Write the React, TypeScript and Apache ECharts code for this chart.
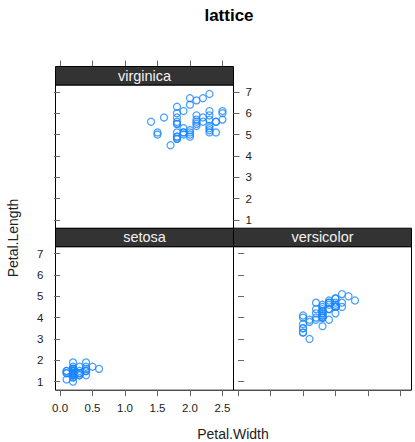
import React, { useEffect, useRef } from "react";
import * as echarts from "echarts";

const panelNames = ["virginica", "setosa", "versicolor"];

const virginicaWidth = [2.5,1.9,2.1,1.8,2.2,2.1,1.7,1.8,1.8,2.5,2.0,1.9,2.1,2.0,2.4,2.3,1.8,2.2,2.3,1.5,2.3,2.0,2.0,1.8,2.1,1.8,1.8,1.8,2.1,1.6,1.9,2.0,2.2,1.5,1.4,2.3,2.4,1.8,1.8,2.1,2.4,2.3,1.9,2.3,2.5,2.3,1.9,2.0,2.3,1.8];
const virginicaLength = [6.0,5.1,5.9,5.6,5.8,6.6,4.5,6.3,5.8,6.1,5.1,5.3,5.5,5.0,5.1,5.3,5.5,6.7,6.9,5.0,5.7,4.9,6.7,4.9,5.7,6.0,4.8,4.9,5.6,5.8,6.1,6.4,5.6,5.1,5.6,6.1,5.6,5.5,4.8,5.4,5.6,5.1,5.1,5.9,5.7,5.2,5.0,5.2,5.4,5.1];

const setosaWidth = [0.2,0.2,0.2,0.2,0.2,0.4,0.3,0.2,0.2,0.1,0.2,0.2,0.1,0.1,0.2,0.4,0.4,0.3,0.3,0.3,0.2,0.4,0.2,0.5,0.2,0.2,0.4,0.2,0.2,0.2,0.2,0.4,0.1,0.2,0.2,0.2,0.2,0.1,0.2,0.2,0.3,0.3,0.2,0.6,0.4,0.3,0.2,0.2,0.2,0.2];
const setosaLength = [1.4,1.4,1.3,1.5,1.4,1.7,1.4,1.5,1.4,1.5,1.5,1.6,1.4,1.1,1.2,1.5,1.3,1.4,1.7,1.5,1.7,1.5,1.0,1.7,1.9,1.6,1.6,1.5,1.4,1.6,1.6,1.5,1.5,1.4,1.5,1.2,1.3,1.4,1.3,1.5,1.3,1.3,1.3,1.6,1.9,1.4,1.6,1.4,1.5,1.4];

const versicolorWidth = [1.4,1.5,1.5,1.3,1.5,1.3,1.6,1.0,1.3,1.4,1.0,1.5,1.0,1.4,1.3,1.4,1.5,1.0,1.5,1.1,1.8,1.3,1.5,1.2,1.3,1.4,1.4,1.7,1.5,1.0,1.1,1.0,1.2,1.6,1.5,1.6,1.5,1.3,1.3,1.3,1.2,1.4,1.2,1.0,1.3,1.2,1.3,1.3,1.1,1.3];
const versicolorLength = [4.7,4.5,4.9,4.0,4.6,4.5,4.7,3.3,4.6,3.9,3.5,4.2,4.0,4.7,3.6,4.4,4.5,4.1,4.5,3.9,4.8,4.0,4.9,4.7,4.3,4.4,4.8,5.0,4.5,3.5,3.8,3.7,3.9,5.1,4.5,4.5,4.7,4.4,4.1,4.0,4.4,4.6,4.0,3.3,4.2,4.2,4.2,4.3,3.0,4.1];

const xTicks = [0.0, 0.5, 1.0, 1.5, 2.0, 2.5];
const yTicks = [1, 2, 3, 4, 5, 6, 7];
const xRange = [-0.07, 2.67];
const yRange = [0.6, 7.32];

const FONT = "'Liberation Sans', Arial, Helvetica, sans-serif";

export default function App() {
  const ref = useRef<HTMLDivElement>(null);
  useEffect(() => {
    document.body.style.margin = "0";
    const chart = echarts.init(ref.current!, null, { renderer: "svg" });

    const L = 55.5, W = 178, H = 143.5, S = 18.5;
    const topRowY = 85, botRowY = 246.7;
    const grids = [
      { left: L, top: topRowY, width: W, height: H },
      { left: L, top: botRowY, width: W, height: H },
      { left: L + W, top: botRowY, width: W, height: H },
    ];

    const tickStyle = { show: true, length: 6, lineStyle: { color: "#666", width: 1 } };
    const labelStyle = { color: "#222", fontSize: 11.5, fontFamily: FONT };

    const mkX = (gi: number, pos: string, labels: boolean, offset = 0) => ({
      type: "value",
      gridIndex: gi,
      position: pos,
      offset,
      min: xRange[0],
      max: xRange[1],
      axisLine: { show: false },
      splitLine: { show: false },
      axisTick: { ...tickStyle, customValues: xTicks },
      axisLabel: {
        show: labels,
        ...labelStyle,
        margin: 12,
        customValues: xTicks,
        formatter: (v: number) => v.toFixed(1),
      },
    });
    const mkY = (gi: number, pos: string, labels: boolean) => ({
      type: "value",
      gridIndex: gi,
      position: pos,
      min: yRange[0],
      max: yRange[1],
      axisLine: { show: false },
      splitLine: { show: false },
      axisTick: { ...tickStyle, customValues: yTicks },
      axisLabel: {
        show: labels,
        ...labelStyle,
        margin: 12,
        customValues: yTicks,
        formatter: (v: number) => String(Math.round(v)),
      },
    });

    const xAxis = [
      mkX(0, "top", false, S),
      mkX(1, "bottom", true),
      mkX(2, "bottom", false),
    ];
    const yAxis = [
      mkY(0, "left", false),
      mkY(0, "right", true),
      mkY(1, "left", true),
      mkY(2, "right", false),
    ];

    const pairs = (xs: number[], ys: number[]) => xs.map((x, i) => [x, ys[i]]);
    const seriesBase = {
      type: "scatter",
      symbol: "circle",
      symbolSize: 7,
      itemStyle: { color: "rgba(0,0,0,0)", borderColor: "#1a86ff", borderWidth: 1.25 },
      silent: true,
    };
    const series = [
      { ...seriesBase, name: "virginica", xAxisIndex: 0, yAxisIndex: 0, data: pairs(virginicaWidth, virginicaLength) },
      { ...seriesBase, name: "setosa", xAxisIndex: 1, yAxisIndex: 2, data: pairs(setosaWidth, setosaLength) },
      { ...seriesBase, name: "versicolor", xAxisIndex: 2, yAxisIndex: 3, data: pairs(versicolorWidth, versicolorLength) },
    ];

    const graphic: any[] = [];
    grids.forEach((g, i) => {
      graphic.push({
        type: "rect",
        shape: { x: g.left, y: g.top - S, width: g.width, height: S },
        style: { fill: "#333333", stroke: "#000", lineWidth: 1 },
        z: 10,
      });
      graphic.push({
        type: "text",
        x: g.left + g.width / 2,
        y: g.top - S / 2,
        style: {
          text: panelNames[i],
          fill: "#f2f2f2",
          font: `14.5px ${FONT}`,
          textAlign: "center",
          textVerticalAlign: "middle",
        },
        z: 11,
      });
    });
    graphic.push({
      type: "text",
      x: 229,
      y: 15,
      style: { text: "lattice", fill: "#000", font: `bold 17px ${FONT}`, textAlign: "center", textVerticalAlign: "middle" },
    });
    graphic.push({
      type: "text",
      x: 233,
      y: 434,
      style: { text: "Petal.Width", fill: "#222", font: `14px ${FONT}`, textAlign: "center", textVerticalAlign: "middle" },
    });
    graphic.push({
      type: "text",
      x: 13,
      y: 238,
      rotation: Math.PI / 2,
      style: { text: "Petal.Length", fill: "#222", font: `14px ${FONT}`, textAlign: "center", textVerticalAlign: "middle" },
    });

    chart.setOption({
      animation: false,
      backgroundColor: "#fff",
      grid: grids.map((g) => ({ ...g, show: true, borderColor: "#000", borderWidth: 1, backgroundColor: "transparent", containLabel: false })),
      xAxis,
      yAxis,
      series,
      graphic,
    });
    return () => chart.dispose();
  }, []);
  return <div ref={ref} style={{ width: 415, height: 442 }} />;
}
